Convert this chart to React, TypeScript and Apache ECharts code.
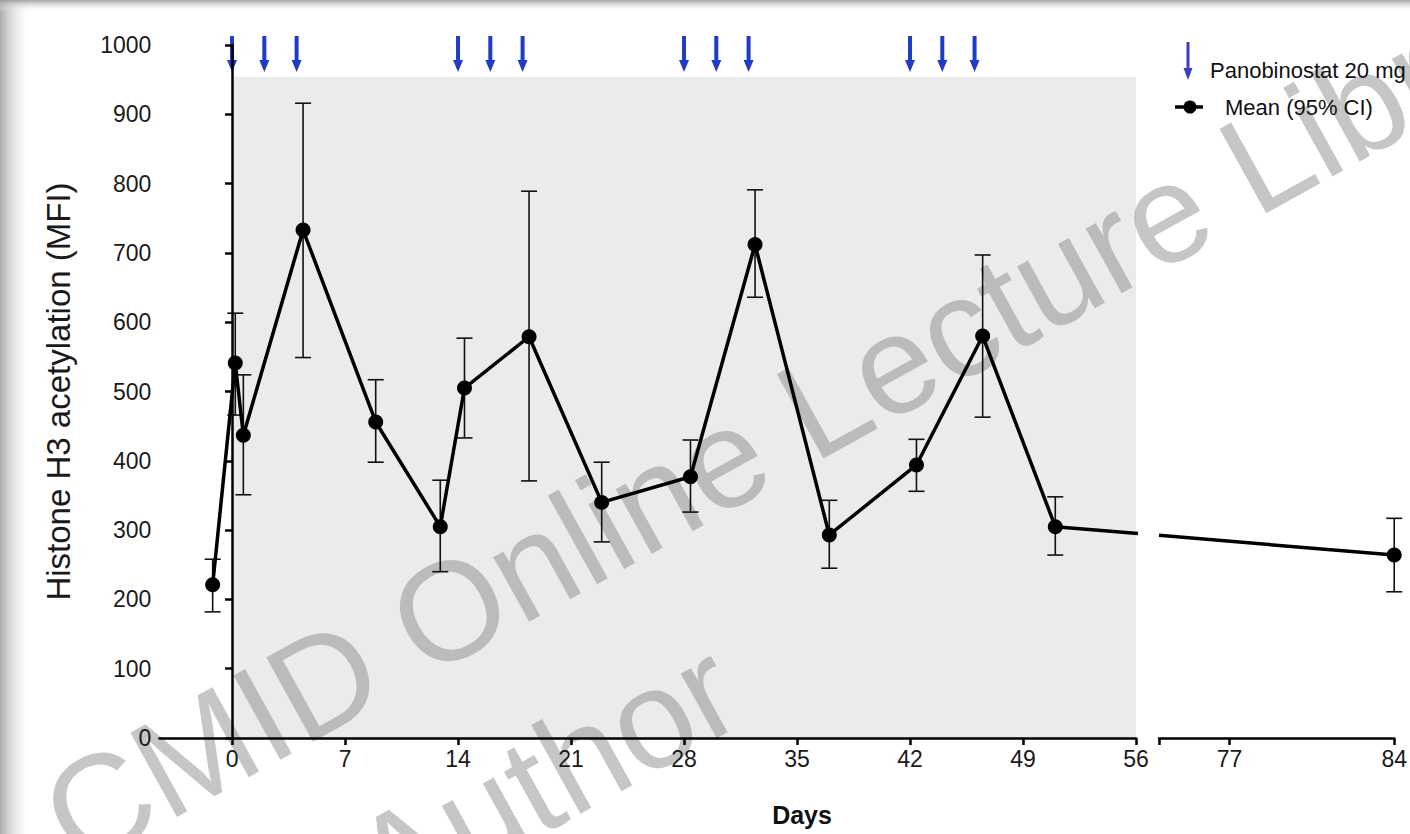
import React, { useEffect, useRef } from "react";
import * as echarts from "echarts";

// ---- data ----
const days = [-1.2, 0.2, 0.7, 4.4, 8.9, 12.9, 14.4, 18.4, 22.9, 28.4, 32.4, 37.0, 42.4, 46.5, 51.0, 84];
const meanMFI = [221, 541, 437, 733, 456, 305, 505, 579, 340, 377, 712, 293, 394, 580, 305, 264];
const ciLow = [182, 466, 351, 549, 398, 240, 433, 371, 283, 326, 636, 245, 356, 463, 264, 211];
const ciHigh = [258, 613, 524, 916, 517, 372, 577, 789, 398, 430, 791, 343, 431, 697, 348, 317];
const doseDays = [0, 2, 4, 14, 16, 18, 28, 30, 32, 42, 44, 46];
const treatmentPeriod = [0, 56];
const xTicksLeft = [0, 7, 14, 21, 28, 35, 42, 49, 56];
const xTicksRight = [77, 84];
const yTicks = [0, 100, 200, 300, 400, 500, 600, 700, 800, 900, 1000];

const LEFT_MIN = -4.5;
const LEFT_MAX = 56;
const RIGHT_MIN = 74;
const RIGHT_MAX = 84;
const ARROW_LEVEL = 987;
const SHADE_TOP = 954;

const FONT = "'Liberation Sans', Arial, Helvetica, sans-serif";
const ARROW_PATH = "path://M3,0 L7,0 L7,24 L10,24 L5,36 L0,24 L3,24 Z";

export default function App() {
  const ref = useRef<HTMLDivElement>(null);

  useEffect(() => {
    const chart = echarts.init(ref.current!, null, { renderer: "svg" });
    const idx = days.map((_, i) => i);
    const leftIdx = idx.filter((i) => days[i] <= LEFT_MAX);
    const rightIdx = idx.filter((i) => days[i] >= RIGHT_MIN);

    const errorBar = (params: any, api: any) => {
      const x = api.value(0);
      const lo = api.coord([x, api.value(1)]);
      const hi = api.coord([x, api.value(2)]);
      const cap = 8;
      const st = { stroke: "#111", lineWidth: 1.6 };
      return {
        type: "group",
        children: [
          { type: "line", shape: { x1: lo[0], y1: lo[1], x2: hi[0], y2: hi[1] }, style: st },
          { type: "line", shape: { x1: lo[0] - cap, y1: lo[1], x2: lo[0] + cap, y2: lo[1] }, style: st },
          { type: "line", shape: { x1: hi[0] - cap, y1: hi[1], x2: hi[0] + cap, y2: hi[1] }, style: st },
        ],
      };
    };

    const axisLineStyle = { color: "#000", width: 2.5 };
    const labelStyle = { color: "#1a1a1a", fontSize: 23, fontFamily: FONT };

    const gradLeft = new echarts.graphic.LinearGradient(0, 0, 1, 0, [
      { offset: 0, color: "rgba(150,150,150,0.8)" },
      { offset: 1, color: "rgba(255,255,255,0)" },
    ]);
    const gradTop = new echarts.graphic.LinearGradient(0, 0, 0, 1, [
      { offset: 0, color: "rgba(150,150,150,0.85)" },
      { offset: 1, color: "rgba(255,255,255,0)" },
    ]);

    const wmStyle = {
      fontSize: 140,
      fontFamily: FONT,
      fill: "rgba(128,128,128,0.45)",
      textAlign: "center",
      textVerticalAlign: "middle",
    };

    const option: any = {
      animation: false,
      backgroundColor: "#fff",
      grid: [
        { left: 159.4, right: 274, top: 45, bottom: 96 },
        { left: 1159, right: 8, top: 45, bottom: 96 },
      ],
      xAxis: [
        {
          type: "value",
          gridIndex: 0,
          min: LEFT_MIN,
          max: LEFT_MAX,
          z: 5,
          axisLine: { show: true, onZero: false, lineStyle: axisLineStyle },
          axisTick: { show: true, length: 7, lineStyle: axisLineStyle, customValues: xTicksLeft },
          axisLabel: { ...labelStyle, margin: 9, customValues: xTicksLeft },
          splitLine: { show: false },
        },
        {
          type: "value",
          gridIndex: 1,
          min: RIGHT_MIN,
          max: RIGHT_MAX,
          z: 5,
          axisLine: { show: true, onZero: false, lineStyle: axisLineStyle },
          axisTick: { show: true, length: 7, lineStyle: axisLineStyle, customValues: [RIGHT_MIN, ...xTicksRight] },
          axisLabel: { ...labelStyle, margin: 9, customValues: xTicksRight },
          splitLine: { show: false },
        },
      ],
      yAxis: [
        {
          type: "value",
          gridIndex: 0,
          min: 0,
          max: 1000,
          interval: 100,
          z: 5,
          name: "Histone H3 acetylation (MFI)",
          nameLocation: "middle",
          nameGap: 84,
          nameTextStyle: { color: "#1a1a1a", fontSize: 33, fontFamily: FONT },
          axisLine: { show: true, lineStyle: axisLineStyle },
          axisTick: { show: true, length: 7, lineStyle: axisLineStyle, customValues: yTicks },
          axisLabel: { ...labelStyle, margin: 8, formatter: (v: number) => String(v) },
          splitLine: { show: false },
        },
        {
          type: "value",
          gridIndex: 1,
          min: 0,
          max: 1000,
          show: false,
          splitLine: { show: false },
        },
      ],
      series: [
        {
          name: "treatment",
          type: "line",
          xAxisIndex: 0,
          yAxisIndex: 0,
          data: [],
          z: 1,
          silent: true,
          markArea: {
            silent: true,
            itemStyle: { color: "#ebebeb" },
            data: [[{ xAxis: treatmentPeriod[0], yAxis: 0 }, { xAxis: treatmentPeriod[1], yAxis: SHADE_TOP }]],
          },
        },
        {
          name: "ciLeft",
          type: "custom",
          xAxisIndex: 0,
          yAxisIndex: 0,
          z: 3,
          renderItem: errorBar,
          encode: { x: 0, y: [1, 2] },
          data: leftIdx.map((i) => [days[i], ciLow[i], ciHigh[i]]),
        },
        {
          name: "ciRight",
          type: "custom",
          xAxisIndex: 1,
          yAxisIndex: 1,
          z: 3,
          renderItem: errorBar,
          encode: { x: 0, y: [1, 2] },
          data: rightIdx.map((i) => [days[i], ciLow[i], ciHigh[i]]),
        },
        {
          name: "Mean (95% CI)",
          type: "line",
          xAxisIndex: 0,
          yAxisIndex: 0,
          z: 4,
          symbol: "circle",
          symbolSize: 15,
          itemStyle: { color: "#000" },
          lineStyle: { color: "#000", width: 3.5 },
          data: leftIdx.map((i) => [days[i], meanMFI[i]]),
        },
        {
          name: "Mean right",
          type: "scatter",
          xAxisIndex: 1,
          yAxisIndex: 1,
          z: 4,
          symbol: "circle",
          symbolSize: 15,
          itemStyle: { color: "#000", opacity: 1 },
          data: rightIdx.map((i) => [days[i], meanMFI[i]]),
        },
        {
          name: "Panobinostat 20 mg",
          type: "scatter",
          xAxisIndex: 0,
          yAxisIndex: 0,
          z: 4,
          clip: false,
          symbol: ARROW_PATH,
          symbolSize: [10, 36],
          itemStyle: { color: "#1f3cc9", opacity: 1 },
          data: doseDays.map((d) => [d, ARROW_LEVEL]),
        },
      ],
      graphic: [
        { id: "vigL", type: "rect", z: 0, shape: { x: 0, y: 0, width: 32, height: 834 }, style: { fill: gradLeft } },
        { id: "vigT", type: "rect", z: 0, shape: { x: 0, y: 0, width: 1410, height: 12 }, style: { fill: gradTop } },
        {
          id: "wm1",
          type: "text",
          z: 2,
          x: 831,
          y: 399,
          rotation: 0.506,
          silent: true,
          style: { ...wmStyle, text: "CMID Online Lecture Library" },
        },
        {
          id: "wm2",
          type: "text",
          z: 2,
          x: 545,
          y: 778,
          rotation: 0.506,
          silent: true,
          style: { ...wmStyle, text: "Author" },
        },
        {
          id: "days",
          type: "text",
          z: 6,
          x: 802,
          y: 815,
          style: {
            text: "Days",
            fontSize: 25,
            fontWeight: "bold",
            fontFamily: FONT,
            fill: "#111",
            textAlign: "center",
            textVerticalAlign: "middle",
          },
        },
        {
          id: "legArrow",
          type: "polygon",
          z: 6,
          shape: {
            points: [
              [1186.5, 42], [1189.5, 42], [1189.5, 68], [1192.5, 68], [1188, 80], [1183.5, 68], [1186.5, 68],
            ],
          },
          style: { fill: "#3a3fc0" },
        },
        {
          id: "legText1",
          type: "text",
          z: 6,
          x: 1210,
          y: 70,
          style: { text: "Panobinostat 20 mg", fontSize: 22, fontFamily: FONT, fill: "#111", textVerticalAlign: "middle" },
        },
        {
          id: "legLine",
          type: "line",
          z: 6,
          shape: { x1: 1175, y1: 107, x2: 1203, y2: 107 },
          style: { stroke: "#000", lineWidth: 3.5 },
        },
        { id: "legDot", type: "circle", z: 6, shape: { cx: 1190, cy: 107, r: 6.5 }, style: { fill: "#000" } },
        {
          id: "legText2",
          type: "text",
          z: 6,
          x: 1225,
          y: 107,
          style: { text: "Mean (95% CI)", fontSize: 22, fontFamily: FONT, fill: "#111", textVerticalAlign: "middle" },
        },
      ],
    };

    chart.setOption(option);

    // Connect the last point before the axis break to the first point after it,
    // in pixel space, interrupted by the break.
    const a = leftIdx[leftIdx.length - 1];
    const b = rightIdx[0];
    const pA = chart.convertToPixel({ gridIndex: 0 }, [days[a], meanMFI[a]]) as number[];
    const pB = chart.convertToPixel({ gridIndex: 1 }, [days[b], meanMFI[b]]) as number[];
    const xL = chart.convertToPixel({ xAxisIndex: 0 }, LEFT_MAX) as number;
    const xR = chart.convertToPixel({ xAxisIndex: 1 }, RIGHT_MIN) as number;
    const yAt = (x: number) => pA[1] + ((pB[1] - pA[1]) * (x - pA[0])) / (pB[0] - pA[0]);
    const segStyle = { stroke: "#000", lineWidth: 3.5 };
    chart.setOption({
      graphic: [
        { id: "segL", type: "line", z: 4, shape: { x1: pA[0], y1: pA[1], x2: xL + 2, y2: yAt(xL + 2) }, style: segStyle },
        { id: "segR", type: "line", z: 4, shape: { x1: xR, y1: yAt(xR), x2: pB[0], y2: pB[1] }, style: segStyle },
      ],
    });

    return () => chart.dispose();
  }, []);

  return <div ref={ref} style={{ position: "absolute", left: 0, top: 0, width: 1410, height: 834 }} />;
}
